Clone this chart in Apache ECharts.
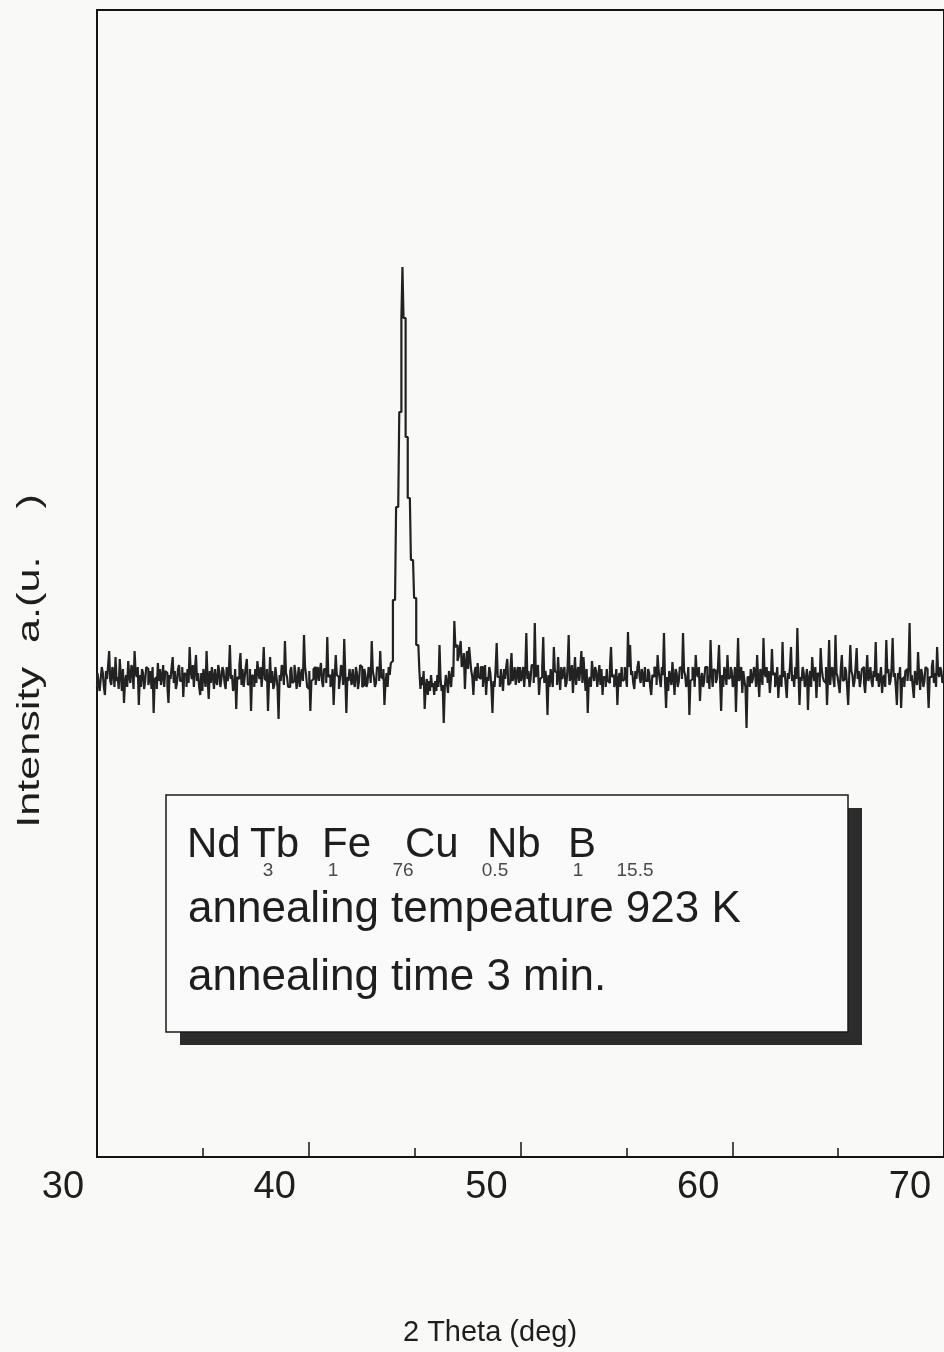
<!DOCTYPE html>
<html>
<head>
<meta charset="utf-8">
<title>XRD pattern – annealed 923 K, 3 min</title>
<script src="https://cdn.jsdelivr.net/npm/echarts@6/dist/echarts.min.js"></script>
<style>
  html, body { margin: 0; padding: 0; background: #f9f9f8; }
  #chart { width: 944px; height: 1352px; }
</style>
</head>
<body>
<div id="chart"></div>
<script>
// 2θ scan from 30° to 70°, step 0.05°
const scanStart = 30;
const scanStep = 0.05;
const xMin = 30;
const xMax = 70;
const xInterval = 10;

// intensity (a.u.), 30.00 .. 43.95 (one row per degree)
const counts30to44 = [
  470, 484, 474, 466, 478, 490, 484, 470, 462, 486, 478, 492, 506, 476, 472, 490, 486, 470, 500, 476,
  480, 468, 498, 482, 466, 488, 454, 476, 482, 470, 496, 480, 474, 492, 488, 468, 506, 484, 480, 490,
  452, 482, 470, 488, 484, 468, 476, 490, 488, 472, 478, 486, 468, 490, 444, 478, 480, 468, 494, 476,
  488, 472, 480, 492, 470, 486, 484, 470, 454, 482, 478, 490, 500, 474, 486, 468, 474, 488, 492, 476,
  476, 490, 460, 484, 482, 470, 488, 474, 510, 486, 478, 492, 470, 488, 502, 476, 484, 470, 462, 484,
  466, 488, 480, 470, 506, 478, 458, 486, 474, 490, 480, 468, 488, 476, 472, 492, 486, 470, 478, 490,
  486, 474, 468, 490, 476, 484, 512, 478, 482, 466, 470, 488, 448, 480, 478, 492, 504, 472, 488, 470,
  480, 490, 498, 472, 474, 488, 446, 482, 480, 470, 488, 474, 496, 484, 478, 490, 470, 486, 510, 478,
  476, 488, 446, 476, 500, 474, 486, 468, 472, 490, 480, 470, 438, 482, 476, 492, 488, 472, 516, 484,
  480, 470, 470, 486, 490, 474, 476, 492, 484, 468, 478, 490, 470, 482, 488, 476, 522, 490, 482, 470,
  468, 486, 446, 476, 478, 488, 490, 472, 482, 490, 476, 486, 494, 476, 470, 488, 488, 474, 520, 480,
  482, 470, 474, 488, 452, 478, 502, 482, 480, 468, 478, 492, 488, 472, 518, 484, 444, 480, 476, 488,
  480, 472, 488, 476, 470, 490, 484, 468, 476, 492, 490, 470, 472, 488, 482, 470, 474, 490, 486, 474,
  516, 486, 480, 470, 474, 490, 488, 476, 506, 480, 478, 488, 452, 474, 484, 470, 490, 482, 494, 496
];

// bcc Fe (110) peak, 44.00 .. 44.95
const peakCounts = [
  557, 557, 557, 650, 650, 650, 745, 745, 839, 890, 839, 839, 720, 720, 659, 659, 659, 597, 597, 597
];

// 45.00 .. 70.00
const counts45to70 = [
  559, 559, 512, 512, 512, 486, 468, 480, 472, 486, 448, 470, 478, 462, 476, 466, 482, 470, 474, 462,
  476, 466, 482, 470, 512, 478, 466, 472, 434, 470, 482, 474, 464, 486, 478, 470, 490, 480, 536, 510,
  512, 496, 500, 508, 516, 490, 494, 504, 468, 494, 506, 488, 510, 498, 486, 480, 462, 484, 490, 476,
  494, 480, 478, 490, 490, 470, 482, 492, 462, 480, 476, 490, 484, 470, 444, 476, 470, 488, 514, 480,
  480, 470, 488, 476, 466, 488, 478, 490, 498, 472, 474, 488, 504, 476, 480, 490, 472, 484, 490, 474,
  490, 476, 482, 490, 470, 486, 524, 478, 486, 470, 478, 492, 492, 474, 534, 480, 484, 492, 462, 478,
  480, 490, 520, 474, 486, 478, 442, 482, 470, 488, 478, 470, 510, 486, 484, 472, 500, 480, 467, 490,
  478, 486, 490, 470, 474, 490, 522, 476, 480, 492, 464, 484, 500, 472, 484, 490, 476, 488, 506, 474,
  500, 482, 466, 488, 444, 476, 480, 470, 496, 484, 476, 490, 486, 470, 480, 492, 472, 488, 462, 480,
  480, 470, 488, 476, 474, 490, 510, 480, 482, 470, 476, 488, 452, 478, 484, 470, 490, 476, 478, 490,
  480, 470, 525, 490, 512, 482, 486, 474, 468, 486, 478, 490, 496, 480, 474, 488, 482, 470, 490, 476,
  476, 488, 484, 470, 462, 482, 480, 490, 488, 472, 502, 486, 478, 470, 490, 482, 524, 476, 449, 480,
  466, 486, 480, 472, 495, 480, 462, 488, 484, 470, 476, 490, 488, 478, 524, 486, 482, 470, 474, 490,
  442, 476, 478, 490, 486, 470, 502, 484, 480, 490, 456, 478, 484, 470, 476, 490, 490, 474, 482, 468,
  517, 484, 470, 488, 486, 474, 478, 490, 512, 476, 446, 482, 470, 490, 484, 472, 502, 478, 480, 490,
  486, 470, 474, 490, 445, 482, 519, 476, 482, 490, 464, 486, 476, 470, 429, 480, 480, 470, 488, 474,
  478, 490, 486, 470, 502, 478, 460, 488, 482, 472, 519, 484, 480, 490, 474, 486, 464, 478, 508, 482,
  484, 470, 476, 490, 459, 478, 482, 470, 515, 480, 486, 472, 459, 484, 478, 490, 510, 476, 482, 470,
  490, 478, 529, 486, 452, 480, 476, 490, 484, 470, 478, 488, 447, 478, 486, 470, 500, 484, 476, 490,
  459, 484, 482, 470, 509, 488, 480, 476, 474, 490, 452, 480, 517, 472, 486, 490, 478, 470, 522, 484,
  480, 472, 464, 488, 502, 476, 478, 490, 486, 470, 452, 482, 512, 486, 482, 470, 476, 490, 509, 478,
  486, 470, 478, 488, 490, 474, 464, 482, 502, 476, 480, 490, 476, 470, 486, 480, 515, 476, 484, 470,
  480, 490, 464, 478, 482, 470, 517, 484, 488, 472, 476, 490, 519, 480, 484, 470, 452, 484, 478, 490,
  449, 478, 480, 470, 486, 488, 476, 490, 534, 476, 482, 470, 459, 486, 480, 472, 505, 482, 467, 488,
  482, 470, 476, 490, 488, 474, 449, 480, 480, 490, 497, 474, 484, 470, 510, 484, 480, 490, 486, 474,
  482
];

// legend box text
const alloyElements = ['Nd', 'Tb', 'Fe', 'Cu', 'Nb', 'B'];
const alloySubscripts = ['3', '1', '76', '0.5', '1', '15.5'];
const noteLines = ['annealing tempeature 923 K', 'annealing time 3 min.'];

const intensity = [...counts30to44, ...peakCounts, ...counts45to70];
const scan = intensity.map((v, i) => [+(scanStart + i * scanStep).toFixed(2), v]);

const FONT = '"Liberation Sans", Arial, sans-serif';
const INK = '#1e1e1e';

// positions in the box (px)
const elemX = [187, 250, 322, 405, 487, 568];
const subX = [268, 333, 403, 495, 578, 635];

const chart = echarts.init(document.getElementById('chart'));

const graphics = [
  // y axis name
  {
    type: 'text', x: 30, y: 661, rotation: Math.PI / 2, scaleX: 1.35,
    style: { text: 'Intensity  a.(u.    )', font: '32px ' + FONT, fill: INK, align: 'center', verticalAlign: 'middle' }
  },
  // x axis name
  {
    type: 'text', x: 490, y: 1333,
    style: { text: '2 Theta (deg)', font: '29px ' + FONT, fill: INK, align: 'center', verticalAlign: 'middle' }
  },
  // box shadow + box
  { type: 'rect', shape: { x: 180, y: 808, width: 682, height: 237 }, style: { fill: '#2c2c2c' } },
  { type: 'rect', shape: { x: 166, y: 795, width: 682, height: 237 }, style: { fill: '#fafafa', stroke: '#1a1a1a', lineWidth: 1.5 } }
];

alloyElements.forEach((el, i) => {
  graphics.push({
    type: 'text', x: elemX[i], y: 845,
    style: { text: el, font: '42px ' + FONT, fill: INK, align: 'left', verticalAlign: 'middle' }
  });
  graphics.push({
    type: 'text', x: subX[i], y: 871,
    style: { text: alloySubscripts[i], font: '19px ' + FONT, fill: '#4a4a4a', align: 'center', verticalAlign: 'middle' }
  });
});

noteLines.forEach((t, i) => {
  graphics.push({
    type: 'text', x: 188, y: 910 + i * 68,
    style: { text: t, font: '44px ' + FONT, fill: INK, align: 'left', verticalAlign: 'middle' }
  });
});

const option = {
  backgroundColor: '#f9f9f8',
  animation: false,
  grid: {
    left: 97,
    right: -5,
    top: 10,
    bottom: 195,
    show: true,
    borderColor: '#141414',
    borderWidth: 2,
    backgroundColor: 'transparent'
  },
  xAxis: {
    type: 'value',
    min: xMin,
    max: xMax,
    interval: xInterval,
    axisLine: { show: false },
    axisTick: { show: true, inside: true, length: 15, lineStyle: { color: '#141414', width: 1.5 } },
    minorTick: { show: true, splitNumber: 2, length: 9, lineStyle: { color: '#141414', width: 1.5 } },
    splitLine: { show: false },
    minorSplitLine: { show: false },
    axisLabel: {
      fontFamily: FONT,
      fontSize: 38,
      color: INK,
      margin: 12,
      align: 'center',
      padding: [0, 68, 0, 0]
    }
  },
  yAxis: {
    type: 'value',
    min: 0,
    max: 1147,
    show: false
  },
  series: [
    {
      type: 'line',
      data: scan,
      step: 'middle',
      showSymbol: false,
      silent: true,
      lineStyle: { color: '#222', width: 2.2 }
    }
  ],
  graphic: graphics
};

chart.setOption(option);
</script>
</body>
</html>
